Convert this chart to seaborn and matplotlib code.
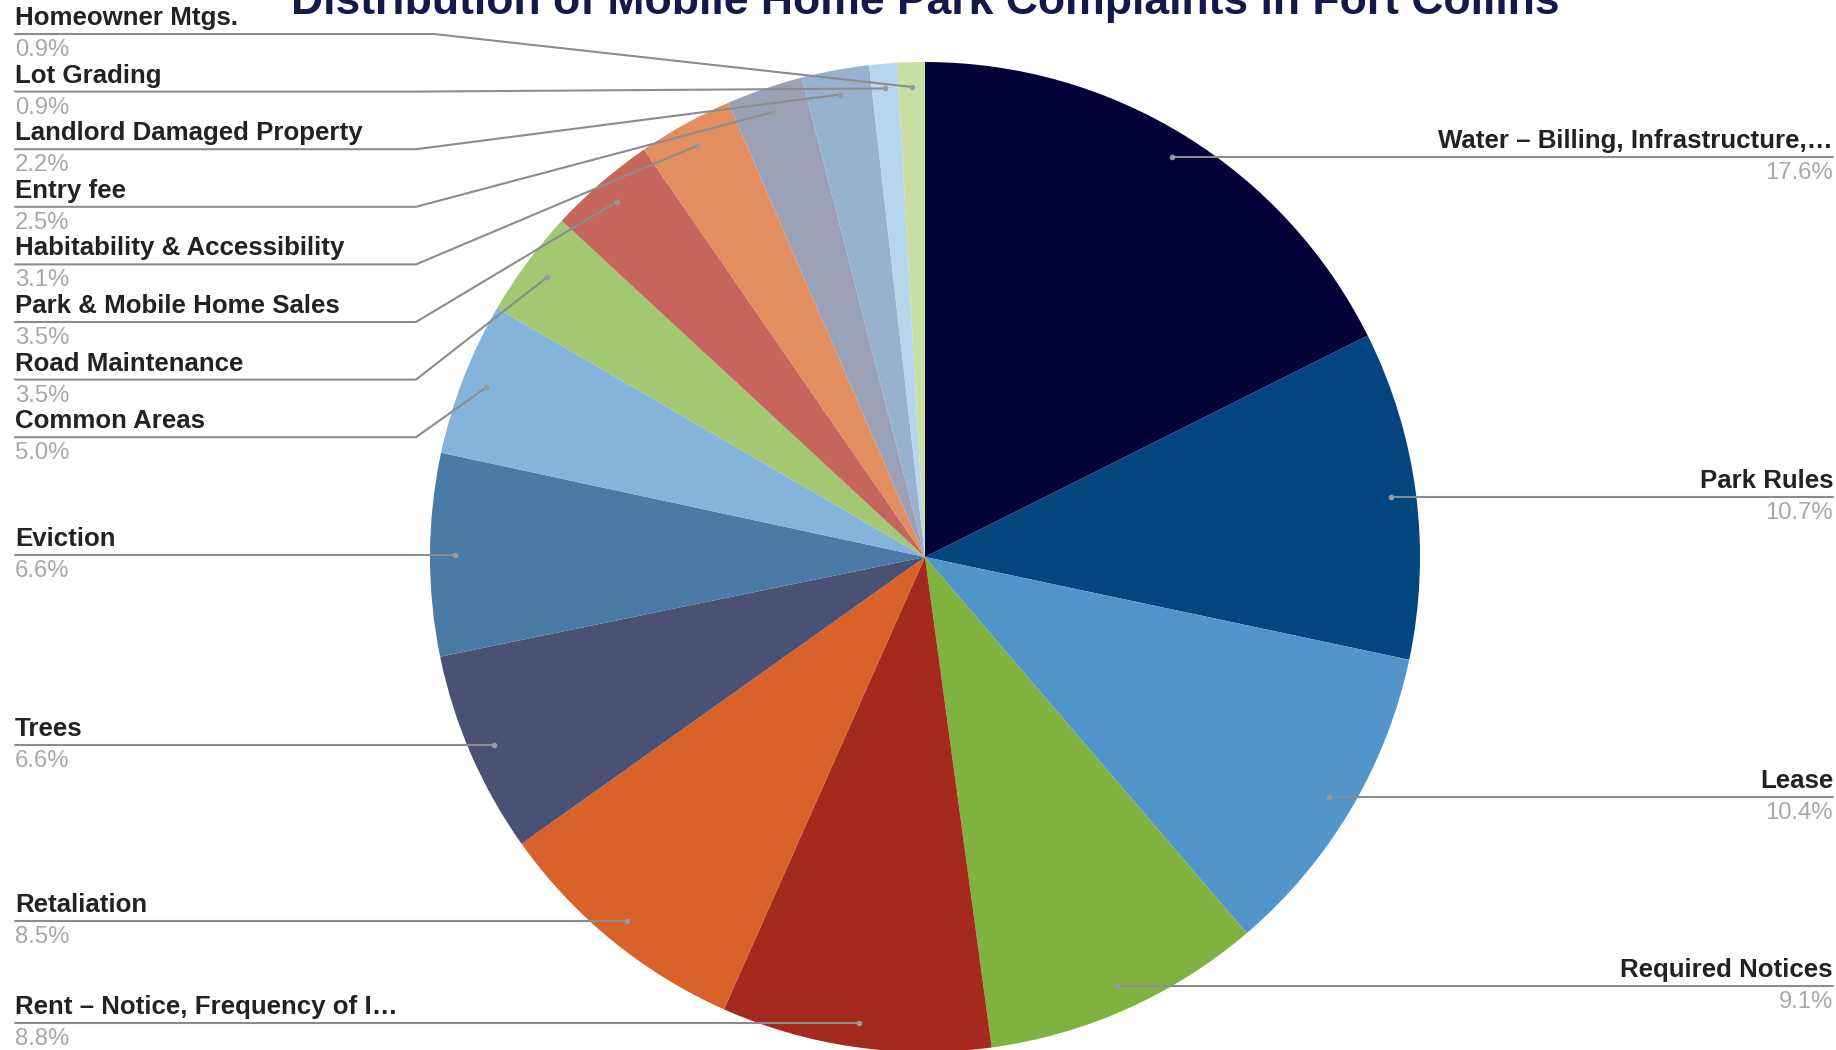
import numpy as np
import matplotlib
matplotlib.use("Agg")
import matplotlib.pyplot as plt
import seaborn as sns

# ---------------- data ----------------
categories = [
    "Water – Billing, Infrastructure,…",
    "Park Rules",
    "Lease",
    "Required Notices",
    "Rent – Notice, Frequency of I…",
    "Retaliation",
    "Trees",
    "Eviction",
    "Common Areas",
    "Road Maintenance",
    "Park & Mobile Home Sales",
    "Habitability & Accessibility",
    "Entry fee",
    "Landlord Damaged Property",
    "Lot Grading",
    "Homeowner Mtgs.",
]
shares = [17.6, 10.7, 10.4, 9.1, 8.8, 8.5, 6.6, 6.6, 5.0, 3.5, 3.5, 3.1, 2.5, 2.2, 0.9, 0.9]
pct_labels = ["17.6%", "10.7%", "10.4%", "9.1%", "8.8%", "8.5%", "6.6%", "6.6%",
              "5.0%", "3.5%", "3.5%", "3.1%", "2.5%", "2.2%", "0.9%", "0.9%"]
colors = ["#03033a", "#02457f", "#5295cb", "#80b23f", "#a42a1e", "#d8622a",
          "#4a5173", "#4a7aa6", "#85b3db", "#a2c874", "#c5655b", "#e28e61",
          "#9aa0b5", "#96b2ce", "#b8d5ee", "#c8dfa4"]
title = "Distribution of Mobile Home Park Complaints in Fort Collins"

# ---------------- layout ----------------
W, H = 1836, 1050
sns.set_theme(style="white")
plt.rcParams["font.family"] = ["Liberation Sans", "DejaVu Sans"]

fig = plt.figure(figsize=(W / 100, H / 100), dpi=100)
ax = fig.add_axes([0, 0, 1, 1])

cx, cy_pix, R = 925, 557, 495
center = (cx, H - cy_pix)

wedges, _ = ax.pie(shares, colors=colors, startangle=90, counterclock=False,
                   center=center, radius=R, wedgeprops=dict(linewidth=0))
ax.set_xlim(0, W)
ax.set_ylim(0, H)
ax.set_aspect("equal")
ax.axis("off")

line_col = "#8c8c8c"
name_col = "#222222"
pct_col = "#a8a8a8"
name_fs = 18.6
pct_fs = 17.2

def anchor(w):
    ang = np.deg2rad((w.theta1 + w.theta2) / 2)
    return center[0] + 0.95 * R * np.cos(ang), center[1] + 0.95 * R * np.sin(ang)

right_idx = [0, 1, 2, 3]
straight_left_idx = [4, 5, 6, 7]
stacked_left = [15, 14, 13, 12, 11, 10, 9, 8]  # top to bottom

left_x, right_x = 15, 1833

def draw_label(x_text, y_line, name, pct, ha):
    ax.text(x_text, y_line + 4, name, ha=ha, va="bottom", fontsize=name_fs,
            fontweight="bold", color=name_col)
    ax.text(x_text, y_line - 5, pct, ha=ha, va="top", fontsize=pct_fs, color=pct_col)

for i in right_idx:
    px, py = anchor(wedges[i])
    ax.plot([px, right_x], [py, py], color=line_col, lw=1.5, zorder=3)
    ax.plot(px, py, "o", ms=3, color="#9a9a9a", zorder=4)
    draw_label(right_x, py, categories[i], pct_labels[i], "right")

for i in straight_left_idx:
    px, py = anchor(wedges[i])
    ax.plot([left_x, px], [py, py], color=line_col, lw=1.5, zorder=3)
    ax.plot(px, py, "o", ms=3, color="#9a9a9a", zorder=4)
    draw_label(left_x, py, categories[i], pct_labels[i], "left")

for k, i in enumerate(stacked_left):
    px, py = anchor(wedges[i])
    y_line = H - (34 + 57.6 * k)
    elbow = 434 if k == 0 else 416
    ax.plot([left_x, elbow, px], [y_line, y_line, py], color=line_col, lw=1.5, zorder=3)
    ax.plot(px, py, "o", ms=3, color="#9a9a9a", zorder=4)
    draw_label(left_x, y_line, categories[i], pct_labels[i], "left")

ax.text(925, H - 14, title, ha="center", va="baseline", fontsize=32,
        fontweight="bold", color="#15194a")

fig.savefig("out.png", dpi=100)
